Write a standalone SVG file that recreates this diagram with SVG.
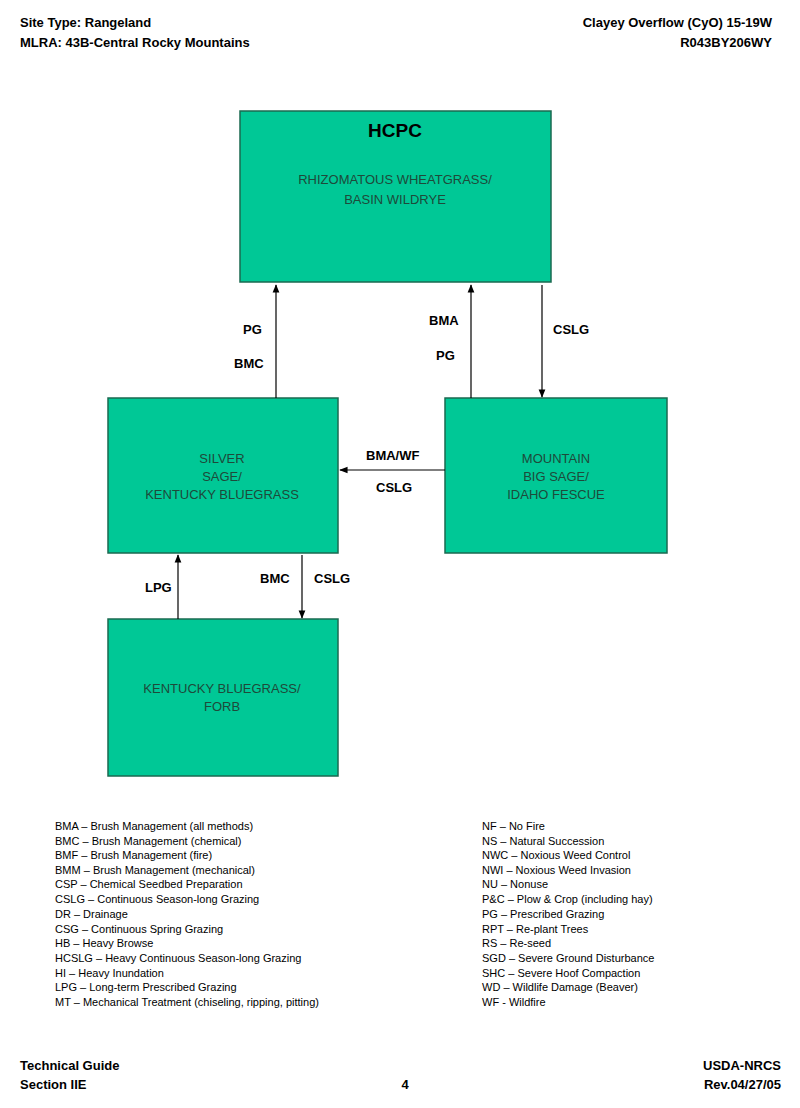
<svg xmlns="http://www.w3.org/2000/svg" width="800" height="1108" viewBox="0 0 800 1108">
<defs>
<marker id="ah" viewBox="0 0 10 10" refX="9" refY="5" markerWidth="7" markerHeight="7" orient="auto"><path d="M0,1 L10,5 L0,9 z" fill="#000"/></marker>
<style>
.box{fill:#00C896;stroke:#1a6a50;stroke-width:1.5}
.nt{font-family:"Liberation Sans",Arial,sans-serif;font-size:13px;fill:#1e4a3a;text-anchor:middle}
.hd{font-family:"Liberation Sans",Arial,sans-serif;font-size:13px;font-weight:bold;fill:#000}
.lb{font-family:"Liberation Sans",Arial,sans-serif;font-size:13px;font-weight:bold;fill:#000}
.lg{font-family:"Liberation Sans",Arial,sans-serif;font-size:11px;fill:#000}
.cn{stroke:#000;stroke-width:1.2;fill:none;marker-end:url(#ah)}
</style>
</defs>
<rect width="800" height="1108" fill="#fff"/>
<text class="hd" x="20" y="27">Site Type:  Rangeland</text>
<text class="hd" x="20" y="47">MLRA: 43B-Central Rocky Mountains</text>
<text class="hd" x="772" y="27" text-anchor="end">Clayey Overflow (CyO) 15-19W</text>
<text class="hd" x="772" y="47" text-anchor="end">R043BY206WY</text>
<g id="hcpc"><rect class="box" x="240" y="111" width="311" height="171"/>
<text x="395" y="137" text-anchor="middle" font-family="Liberation Sans,Arial,sans-serif" font-size="19" font-weight="bold">HCPC</text>
<text class="nt" x="395" y="184">RHIZOMATOUS WHEATGRASS/</text><text class="nt" x="395" y="204">BASIN WILDRYE</text></g>
<g id="silver"><rect class="box" x="108" y="398" width="230" height="155"/>
<text class="nt" x="222" y="463">SILVER</text><text class="nt" x="222" y="481">SAGE/</text><text class="nt" x="222" y="499">KENTUCKY BLUEGRASS</text></g>
<g id="mountain"><rect class="box" x="445" y="398" width="222" height="155"/>
<text class="nt" x="556" y="463">MOUNTAIN</text><text class="nt" x="556" y="481">BIG SAGE/</text><text class="nt" x="556" y="499">IDAHO FESCUE</text></g>
<g id="kbforb"><rect class="box" x="108" y="619" width="230" height="157"/>
<text class="nt" x="222" y="693">KENTUCKY BLUEGRASS/</text><text class="nt" x="222" y="711">FORB</text></g>
<g id="connectors">
<line class="cn" x1="276" y1="398" x2="276" y2="285"/>
<line class="cn" x1="471" y1="398" x2="471" y2="285"/>
<line class="cn" x1="542" y1="285" x2="542" y2="397"/>
<line class="cn" x1="445" y1="470" x2="340" y2="470"/>
<line class="cn" x1="178" y1="619" x2="178" y2="555"/>
<line class="cn" x1="302" y1="555" x2="302" y2="618"/>
<text class="lb" x="243" y="334">PG</text>
<text class="lb" x="234" y="368">BMC</text>
<text class="lb" x="429" y="325">BMA</text>
<text class="lb" x="436" y="360">PG</text>
<text class="lb" x="553" y="334">CSLG</text>
<text class="lb" x="366" y="460">BMA/WF</text>
<text class="lb" x="376" y="492">CSLG</text>
<text class="lb" x="145" y="592">LPG</text>
<text class="lb" x="260" y="583">BMC</text>
<text class="lb" x="314" y="583">CSLG</text>
</g>
<g class="lg">
<text x="55" y="830">BMA – Brush Management (all methods)</text>
<text x="55" y="845">BMC – Brush Management (chemical)</text>
<text x="55" y="859">BMF – Brush Management (fire)</text>
<text x="55" y="874">BMM – Brush Management (mechanical)</text>
<text x="55" y="888">CSP – Chemical Seedbed Preparation</text>
<text x="55" y="903">CSLG – Continuous Season-long Grazing</text>
<text x="55" y="918">DR – Drainage</text>
<text x="55" y="933">CSG – Continuous Spring Grazing</text>
<text x="55" y="947">HB – Heavy Browse</text>
<text x="55" y="962">HCSLG – Heavy Continuous Season-long Grazing</text>
<text x="55" y="977">HI – Heavy Inundation</text>
<text x="55" y="991">LPG – Long-term Prescribed Grazing</text>
<text x="55" y="1006">MT – Mechanical Treatment (chiseling, ripping, pitting)</text>
<text x="482" y="830">NF – No Fire</text>
<text x="482" y="845">NS – Natural Succession</text>
<text x="482" y="859">NWC – Noxious Weed Control</text>
<text x="482" y="874">NWI – Noxious Weed Invasion</text>
<text x="482" y="888">NU – Nonuse</text>
<text x="482" y="903">P&amp;C – Plow &amp; Crop (including hay)</text>
<text x="482" y="918">PG – Prescribed Grazing</text>
<text x="482" y="933">RPT – Re-plant Trees</text>
<text x="482" y="947">RS – Re-seed</text>
<text x="482" y="962">SGD – Severe Ground Disturbance</text>
<text x="482" y="977">SHC – Severe Hoof Compaction</text>
<text x="482" y="991">WD – Wildlife Damage (Beaver)</text>
<text x="482" y="1006">WF - Wildfire</text>
</g>
<text class="hd" x="20" y="1070">Technical Guide</text>
<text class="hd" x="20" y="1089">Section IIE</text>
<text class="hd" x="405" y="1089" text-anchor="middle">4</text>
<text class="hd" x="781" y="1070" text-anchor="end">USDA-NRCS</text>
<text class="hd" x="781" y="1089" text-anchor="end">Rev.04/27/05</text>
</svg>
